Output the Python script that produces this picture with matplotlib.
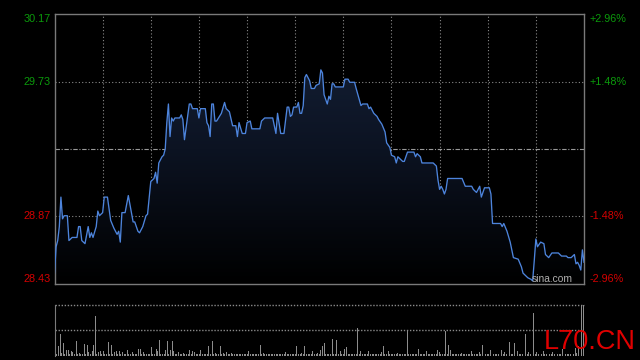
import matplotlib

matplotlib.use("Agg")

import matplotlib.pyplot as plt
import numpy as np
from matplotlib.colors import LinearSegmentedColormap
from matplotlib.patches import Polygon
from matplotlib.transforms import blended_transform_factory

plt.rcParams["font.family"] = ["Liberation Sans", "DejaVu Sans"]

# intraday price, minute index from the open (0..330) and price
minutes = [0, 1, 2, 3, 4, 5, 6, 8, 9, 11, 14, 15, 16, 17, 19, 21, 22, 23, 24, 26,
           27, 28, 30, 31, 33, 35, 37, 39, 40, 41, 42, 44, 46, 49, 50, 52, 53, 55, 57, 58,
           60, 62, 63, 64, 65, 67, 68, 69, 70, 71, 72, 73, 74, 75, 78, 79, 80, 81, 83, 84,
           85, 86, 89, 90, 91, 94, 95, 96, 97, 98, 99, 100, 101, 104, 106, 107, 109, 111, 113, 114,
           115, 117, 119, 120, 122, 123, 128, 129, 131, 136, 137, 138, 139, 141, 143, 145, 146, 147, 148, 149,
           151, 152, 153, 154, 155, 156, 157, 159, 160, 162, 163, 165, 166, 167, 168, 170, 171, 172, 173, 174,
           175, 180, 181, 183, 184, 187, 188, 191, 192, 195, 196, 197, 199, 201, 202, 204, 206, 207, 209, 210,
           212, 213, 214, 215, 217, 218, 220, 224, 225, 226, 228, 229, 236, 238, 239, 240, 241, 242, 243, 244,
           245, 254, 256, 260, 261, 263, 265, 266, 268, 271, 272, 273, 274, 278, 279, 280, 282, 284, 286, 289,
           291, 292, 295, 297, 298, 299, 300, 301, 303, 305, 306, 308, 310, 312, 314, 316, 319, 320, 322, 324,
           325, 326, 327, 328, 329, 330]
prices = [28.50, 28.67, 28.71, 28.80, 28.99, 28.85, 28.87, 28.87, 28.71, 28.73, 28.73, 28.80, 28.80, 28.71, 28.69, 28.80, 28.73, 28.76, 28.73, 28.80,
          28.90, 28.87, 28.89, 28.99, 28.99, 28.84, 28.79, 28.75, 28.77, 28.70, 28.89, 28.89, 29.00, 28.83, 28.83, 28.77, 28.76, 28.80, 28.87, 28.88,
          29.09, 29.11, 29.15, 29.08, 29.21, 29.25, 29.26, 29.30, 29.47, 29.59, 29.38, 29.50, 29.48, 29.50, 29.50, 29.52, 29.49, 29.36, 29.51, 29.59,
          29.59, 29.56, 29.56, 29.50, 29.56, 29.56, 29.47, 29.45, 29.38, 29.59, 29.59, 29.48, 29.48, 29.53, 29.60, 29.56, 29.54, 29.45, 29.45, 29.38,
          29.47, 29.40, 29.40, 29.47, 29.48, 29.43, 29.43, 29.48, 29.50, 29.50, 29.45, 29.40, 29.53, 29.40, 29.40, 29.57, 29.57, 29.51, 29.52, 29.57,
          29.57, 29.60, 29.53, 29.53, 29.58, 29.76, 29.78, 29.74, 29.69, 29.69, 29.71, 29.72, 29.81, 29.79, 29.65, 29.59, 29.64, 29.62, 29.72, 29.72,
          29.70, 29.70, 29.75, 29.75, 29.73, 29.73, 29.69, 29.58, 29.59, 29.59, 29.56, 29.57, 29.53, 29.51, 29.49, 29.46, 29.41, 29.34, 29.31, 29.26,
          29.25, 29.21, 29.25, 29.24, 29.22, 29.22, 29.28, 29.28, 29.25, 29.27, 29.25, 29.21, 29.21, 29.19, 29.10, 29.04, 29.06, 29.04, 29.01, 29.04,
          29.11, 29.11, 29.06, 29.06, 29.04, 29.02, 29.06, 28.99, 29.05, 29.05, 29.01, 28.82, 28.82, 28.82, 28.80, 28.82, 28.77, 28.70, 28.60, 28.59,
          28.54, 28.50, 28.47, 28.46, 28.45, 28.58, 28.72, 28.67, 28.70, 28.69, 28.62, 28.60, 28.63, 28.63, 28.63, 28.61, 28.61, 28.60, 28.60, 28.62,
          28.56, 28.57, 28.55, 28.52, 28.65, 28.57]

# per-minute volume (relative units)
volume = [5.7, 1.5, 9, 21.7, 2.3, 12.3, 1.3, 5.7, 5.7, 1.5,
          4.7, 3.3, 1.2, 14.7, 1.5, 2.3, 1, 1.3, 11.7, 1.5,
          10.7, 3.3, 1.2, 4, 10.7, 38.7, 1.5, 3.3, 4.7, 1.2,
          4.7, 1.5, 1, 13.7, 1.3, 10.7, 1.5, 3.3, 4, 1.2,
          4.7, 1.5, 3, 1.3, 1, 5.7, 1.5, 1.2, 3.3, 1,
          1.5, 1.3, 6.7, 6, 1.2, 3.3, 1.5, 1, 1.3, 1.5,
          8.7, 1.3, 1, 6.7, 4, 15.7, 1.5, 1.2, 1.3, 5.7,
          14.7, 1.5, 5.7, 14.7, 4.7, 1.2, 1.5, 3.3, 1.3, 1,
          2.3, 1.5, 1.2, 1.3, 5.7, 1.5, 4, 3.3, 1.2, 1.5,
          1.3, 5.7, 1.5, 1, 1.3, 1.5, 9, 1.2, 14.7, 1.5,
          2.3, 1.2, 1.5, 9.7, 1.3, 2.3, 1, 3.3, 1.5, 1.2,
          2, 1.3, 1, 1.5, 1.2, 1.3, 1, 1.5, 1.2, 1.3,
          1.5, 4.7, 1.2, 1, 1.3, 1.5, 1.2, 1.3, 10.7, 1.5,
          2.3, 1.2, 1, 1.3, 1.5, 1.2, 1, 1.3, 1.5, 1.2,
          1.3, 1, 1.5, 1.2, 3.3, 1.3, 1.5, 1, 1.2, 1.5,
          1.3, 9, 1.2, 1.5, 2.3, 1.3, 9, 1.2, 1, 1.5,
          1.3, 4.7, 1.2, 1.5, 2.3, 1.3, 5.7, 9, 12.7, 1.5,
          1.2, 1.3, 1.5, 16.7, 1.2, 1.3, 15, 1.5, 4.7, 1.2,
          1.3, 6.7, 8, 1.5, 1.2, 1, 1.3, 1.5, 1.2, 27.3,
          1.5, 4.7, 1.2, 1.3, 1, 1.5, 4.7, 1.2, 1.3, 1,
          1.5, 1.2, 1.3, 1, 3.3, 9, 1.5, 1.2, 4, 1.3,
          1, 1.5, 1.2, 1.3, 2.3, 1, 1.5, 1.2, 1.3, 1.5,
          25.3, 1.2, 1.3, 1, 1.5, 1.2, 1.3, 6.7, 1.5, 1.2,
          1, 1.3, 4.7, 1.5, 1.2, 1, 1.3, 1.5, 1.2, 5.7,
          3.3, 1.2, 1.5, 1.3, 24.7, 1.5, 10, 5.7, 1.2, 1.3,
          1, 1.5, 1.2, 1.3, 2.3, 1, 1.5, 1.2, 1.3, 1,
          4.7, 1.5, 1.2, 1.3, 1, 3.3, 1.5, 10.7, 1.2, 1.3,
          1.5, 1.2, 5.7, 4.7, 1.3, 1.5, 1.2, 1.3, 3.3, 5.7,
          1.5, 3.3, 1.2, 1.3, 13, 1.5, 1.2, 12, 1.3, 4,
          1.5, 1.2, 1.3, 1, 21.7, 1.5, 3.3, 1.2, 1.3, 41.7,
          1.5, 3.3, 1.2, 1.3, 1.5, 4, 1.2, 1.3, 1.5, 1.2,
          1.3, 3.3, 1.5, 1.2, 1.3, 1.5, 1.2, 6.7, 1.3, 1.5,
          1.2, 1.5, 1.3, 5.7, 1.5, 7.3, 2.3, 9, 38, 50,
          50]

prev_close = 29.30
price_ticks = [30.17, 29.73, 28.87, 28.43]
price_labels = ["30.17", "29.73", "28.87", "28.43"]
pct_labels = ["+2.96%", "+1.48%", "-1.48%", "-2.96%"]

GREEN = "#0b9a0b"
RED = "#d40000"
GRID = "#8a8a8a"

fig = plt.figure(figsize=(6.4, 3.6), dpi=100, facecolor="black")
ax = fig.add_axes([54.5 / 640, 1 - 284 / 360, 529.5 / 640, 270 / 360])
vax = fig.add_axes([54.5 / 640, 1 - 355.5 / 360, 529.5 / 640, 50.5 / 360])

for a in (ax, vax):
    a.set_facecolor("black")
    a.set_xticks([])
    a.set_yticks([])

ax.set_xlim(0, 330)
ax.set_ylim(price_ticks[-1], price_ticks[0])
for s in ax.spines.values():
    s.set_color("#7a7a7a")
    s.set_linewidth(1.0)

# grid
for m in range(30, 330, 30):
    ax.axvline(m, color=GRID, lw=0.8, ls=(0, (1, 2)), zorder=1)
for p in (price_ticks[1], price_ticks[2]):
    ax.axhline(p, color=GRID, lw=0.8, ls=(0, (1, 2)), zorder=1)
ax.axhline(prev_close, color="#9a9a9a", lw=0.8, ls=(0, (4, 1.5, 1, 1.5)), zorder=1)

# gradient fill under the price line
x = np.array(minutes, dtype=float)
y = np.array(prices)
cmap = LinearSegmentedColormap.from_list("fill", ["#000000", "#0c1322", "#16233b"])
grad = np.linspace(0, 1, 256).reshape(-1, 1)
img = ax.imshow(grad, aspect="auto", cmap=cmap, origin="lower",
                extent=[0, 330, price_ticks[-1], price_ticks[0]], zorder=2)
verts = np.column_stack([np.r_[x, x[-1], x[0]], np.r_[y, price_ticks[-1], price_ticks[-1]]])
poly = Polygon(verts, closed=True, facecolor="none", edgecolor="none")
ax.add_patch(poly)
img.set_clip_path(poly)

ax.plot(x, y, color="#4d84dc", lw=0.95, zorder=3)

# axis labels
tl = blended_transform_factory(ax.transAxes, ax.transData)
vas = ["top", "center", "center", "bottom"]
for p, lab, pct, va in zip(price_ticks, price_labels, pct_labels, vas):
    c = GREEN if p > prev_close else RED
    ax.text(-0.007, p, lab, transform=tl, ha="right", va=va, color=c, fontsize=7.8)
    ax.text(1.011, p, pct, transform=tl, ha="left", va=va, color=c, fontsize=7.8)

ax.text(0.902, 0.0, "sina.com", transform=ax.transAxes, ha="left", va="bottom",
        color="#b0b0b0", fontsize=7.4)

# volume panel
vax.set_xlim(-0.5, 330.5)
vax.set_ylim(0, max(volume))
vax.bar(np.arange(len(volume)), volume, width=0.6, color="#8c8c8c", zorder=2)
for s in ("right", "bottom", "top"):
    vax.spines[s].set_visible(False)
vax.spines["left"].set_color("#7a7a7a")
vax.axhline(max(volume), color=GRID, lw=1.0, ls=(0, (1, 1.2)), zorder=1, clip_on=False)
vax.axhline(max(volume) / 2, color=GRID, lw=1.0, ls=(0, (1, 1.2)), zorder=1)

fig.text(544 / 640, 1 - 349 / 360, "L70.CN", color="#e00000", fontsize=19.5,
         ha="left", va="baseline")

fig.savefig("out.png", dpi=100, facecolor="black")
